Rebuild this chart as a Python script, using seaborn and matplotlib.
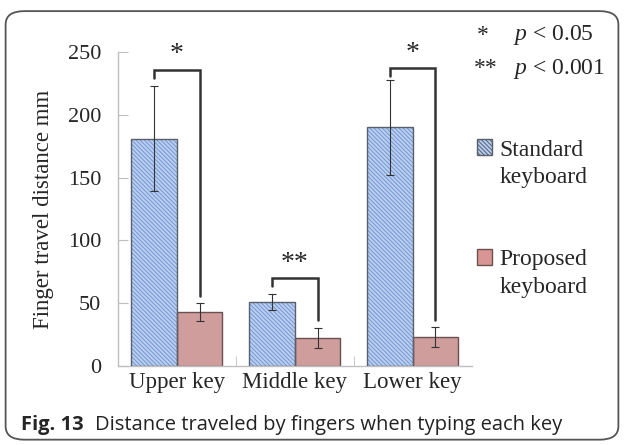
import matplotlib
matplotlib.use("Agg")
import matplotlib.pyplot as plt
from matplotlib.patches import FancyBboxPatch, Patch, Rectangle
import seaborn as sns
import pandas as pd

# data
keys = ["Upper key", "Middle key", "Lower key"]
groups = ["Standard", "Proposed"]
standard = [181, 51, 190]
proposed = [43, 22, 23]
standard_err = [42, 6, 38]
proposed_err = [7, 8, 8]
# significance brackets: top, left leg end, right leg end, label
bracket_top = [236, 70, 237]
bracket_left = [229, 64, 231]
bracket_right = [56, 37, 37]
stars = ["*", "**", "*"]

sns.set_style("white")
plt.rcParams["font.family"] = ["Liberation Serif", "DejaVu Serif"]
plt.rcParams["mathtext.fontset"] = "custom"
plt.rcParams["mathtext.it"] = "Liberation Serif:italic"
plt.rcParams["mathtext.rm"] = "Liberation Serif"
plt.rcParams["hatch.linewidth"] = 0.7

df = pd.DataFrame({
    "key": keys * 2,
    "group": [groups[0]] * 3 + [groups[1]] * 3,
    "value": standard + proposed,
})

fig = plt.figure(figsize=(6.24, 4.45), dpi=100)
ax = fig.add_axes([0.189, 0.1775, 0.567, 0.7055])

sns.barplot(data=df, x="key", y="value", hue="group", order=keys,
            hue_order=groups, palette=["#b4cdf2", "#d99594"],
            width=0.77, errorbar=None, legend=False, ax=ax)

n = len(keys)
bars = ax.patches[:2 * n]
std_bars, prop_bars = bars[:n], bars[n:]

hatch = "\\\\\\\\\\\\\\\\"
for p in std_bars:
    p.set_hatch(hatch)
    p.set_edgecolor("#6f98dc")
    p.set_linewidth(0)
    bb = p.get_bbox()
    ax.add_patch(Rectangle((bb.x0, bb.y0), bb.width, bb.height, fill=False,
                           edgecolor="#5a5f6a", linewidth=1.0, zorder=3))
for p in prop_bars:
    p.set_edgecolor("#6b5050")
    p.set_linewidth(1.0)

sx = [p.get_x() + p.get_width() / 2 for p in std_bars]
px = [p.get_x() + p.get_width() / 2 for p in prop_bars]
ax.errorbar(sx, standard, yerr=standard_err, fmt="none", ecolor="#333333",
            elinewidth=0.8, capsize=3, capthick=0.8, zorder=4)
ax.errorbar(px, proposed, yerr=proposed_err, fmt="none", ecolor="#333333",
            elinewidth=0.8, capsize=3, capthick=0.8, zorder=4)

for i in range(n):
    ax.plot([sx[i], sx[i], px[i], px[i]],
            [bracket_left[i], bracket_top[i], bracket_top[i], bracket_right[i]],
            color="#333333", lw=1.8, zorder=5, solid_joinstyle="miter")
    ax.text((sx[i] + px[i]) / 2, bracket_top[i] + 2, stars[i], ha="center",
            va="bottom", fontsize=20)

ax.set_ylim(0, 250)
ax.set_xlim(-0.5, n - 0.5)
ax.set_yticks([0, 50, 100, 150, 200, 250])
ax.tick_params(axis="y", direction="in", length=7, color="#bfbfbf",
               labelsize=16, pad=12, left=True)
ax.set_xticks(range(n))
ax.set_xticks([0.5 + i for i in range(n - 1)], minor=True)
ax.tick_params(axis="x", which="major", length=0, labelsize=16.5, pad=4)
ax.tick_params(axis="x", which="minor", direction="in", length=7,
               color="#bfbfbf", bottom=True)
ax.set_xlabel("")
ax.set_ylabel("Finger travel distance mm", fontsize=16.5, labelpad=10)
for s in ["top", "right"]:
    ax.spines[s].set_visible(False)
for s in ["left", "bottom"]:
    ax.spines[s].set_color("#bfbfbf")
    ax.spines[s].set_linewidth(1)

handles = [Patch(facecolor="#b4cdf2", edgecolor="#5a5f6a", hatch=hatch),
           Patch(facecolor="#d99594", edgecolor="#6b5050")]
leg_y = [0.663, 0.416]
for h, g, y in zip(handles, groups, leg_y):
    leg = fig.legend([h], [g], loc="center left", bbox_to_anchor=(0.745, y),
                     frameon=False, fontsize=17, handlelength=0.65,
                     handleheight=0.65, handletextpad=0.3, borderpad=0)
    fig.canvas.draw()
    bb = leg.get_texts()[0].get_window_extent().transformed(fig.transFigure.inverted())
    fig.text(bb.x0, y - 0.062, "keyboard", fontsize=17, ha="left", va="center")

fig.text(0.774, 0.921, "*", fontsize=17, ha="center", va="center")
fig.text(0.822, 0.921, "$p$ < 0.05", fontsize=17, ha="left", va="center")
fig.text(0.778, 0.846, "**", fontsize=17, ha="center", va="center")
fig.text(0.822, 0.846, "$p$ < 0.001", fontsize=17, ha="left", va="center")

cap_font = ["Open Sans", "DejaVu Sans"]
fig.text(0.034, 0.045, "Fig. 13", fontsize=14.5, fontweight="bold",
         family=cap_font, va="center", ha="left")
fig.text(0.152, 0.045, "Distance traveled by fingers when typing each key",
         fontsize=14.5, family=cap_font, va="center", ha="left",
         color="#222222")

fig.patches.append(FancyBboxPatch((0.009, 0.012), 0.982, 0.963,
                                  boxstyle="round,pad=0,rounding_size=0.03",
                                  transform=fig.transFigure, fill=False,
                                  edgecolor="#555555", linewidth=1.3))

fig.savefig("out.png", dpi=100)
